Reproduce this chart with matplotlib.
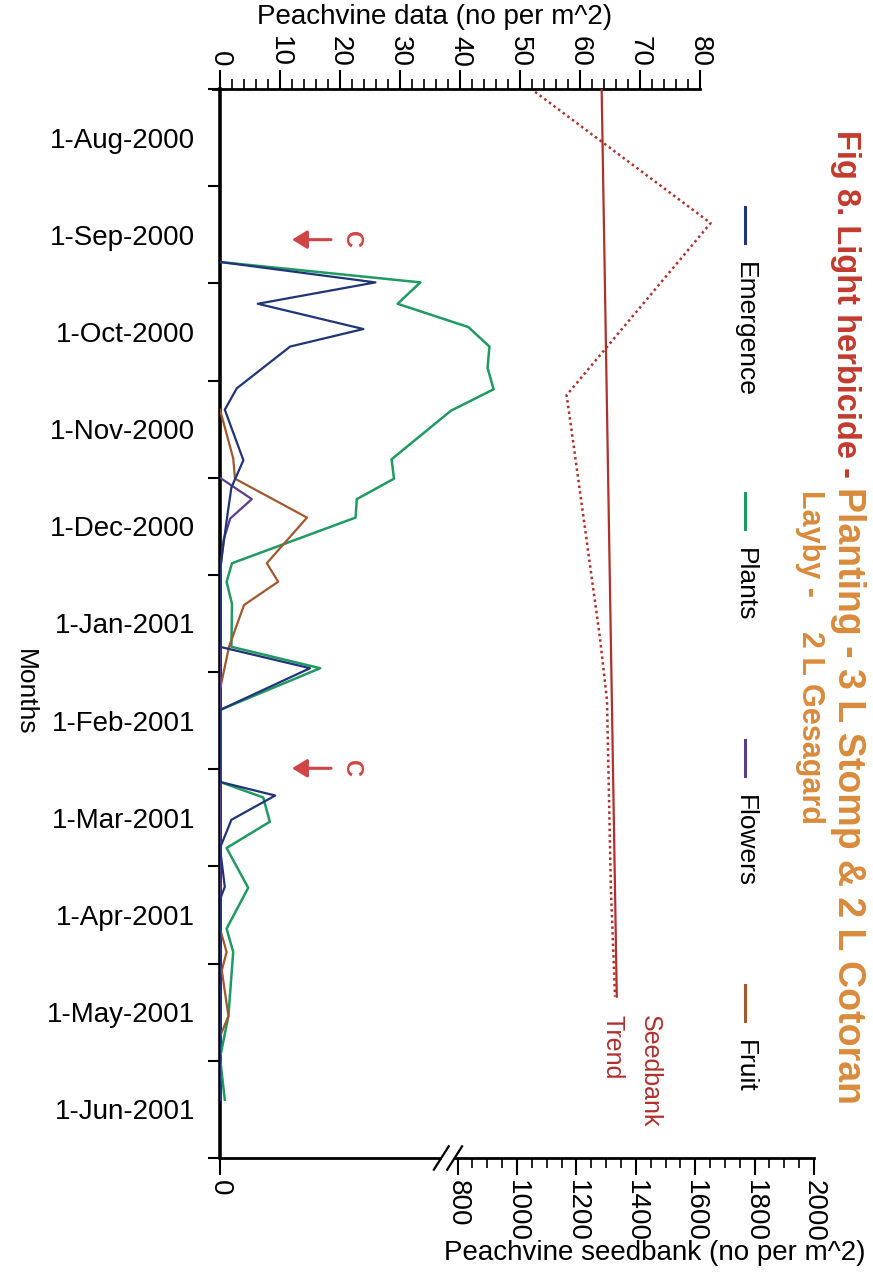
import numpy as np
import matplotlib
matplotlib.use("Agg")
import matplotlib.pyplot as plt

# ---------------------------------------------------------------------------
# Data: time axis is measured in months from the top of the plot
# (0 = start of the Aug-2000 band, 11 = end of the Jun-2001 band)
# ---------------------------------------------------------------------------
month_labels = ["1-Aug-2000", "1-Sep-2000", "1-Oct-2000", "1-Nov-2000",
                "1-Dec-2000", "1-Jan-2001", "1-Feb-2001", "1-Mar-2001",
                "1-Apr-2001", "1-May-2001", "1-Jun-2001"]

emergence_t = [1.78, 1.99, 2.21, 2.47, 2.65, 3.08, 3.30, 3.82, 4.10, 4.40,
               4.95, 5.74, 5.96, 6.39, 7.13, 7.27, 7.52, 7.81, 8.21, 8.34, 10.40]
emergence_v = [0, 25.9, 6.3, 23.9, 11.7, 2.8, 0.8, 3.9, 1.9, 1.2,
               0, 0, 15.0, 0, 0, 9.2, 1.9, 0, 0.8, 0, 0]

plants_t = [1.78, 1.99, 2.21, 2.45, 2.65, 2.87, 3.09, 3.31, 3.81, 4.01,
            4.22, 4.41, 4.88, 5.07, 5.30, 5.74, 5.96, 6.39, 7.13, 7.29,
            7.54, 7.81, 8.22, 8.64, 8.88, 9.54, 9.97, 10.40]
plants_v = [0, 33.4, 29.6, 41.4, 44.9, 44.6, 45.6, 38.5, 28.6, 29.0,
            22.8, 22.6, 2.0, 1.1, 2.0, 1.9, 16.7, 0, 0, 7.2,
            8.3, 1.1, 4.7, 1.1, 2.2, 1.4, 0, 0.8]

flowers_t = [4.00, 4.22, 4.42, 4.64, 4.98, 10.40]
flowers_v = [0, 5.3, 1.7, 0.6, 0, 0]

fruit_t = [3.30, 3.80, 4.01, 4.41, 4.88, 5.07, 5.31, 5.74, 6.18, 8.64,
           8.88, 9.07, 9.54, 9.75]
fruit_v = [0, 2.2, 2.5, 14.5, 7.8, 9.7, 4.0, 1.5, 0, 0,
           1.1, 0.3, 1.4, 0]

# seedbank observations (dotted) and fitted trend (solid)
seedbank_t = [0.03, 1.38, 3.15, 3.54, 5.64, 6.29, 8.21, 9.34]
seedbank_v = [1061, 1652, 1167, 1185, 1279, 1303, 1316, 1330]
trend_t = [0.0, 9.34]
trend_v = [1285, 1336]

# cultivation events
cult_t = [1.55, 6.99]

legend_names = ["Emergence", "Plants", "Flowers", "Fruit"]

# ---------------------------------------------------------------------------
W, H, DPI = 873, 1288, 100
plt.rcParams["font.family"] = ["Liberation Sans", "DejaVu Sans"]

C_EMERG = "#1f3577"
C_PLANT = "#1f9a62"
C_FLOW = "#5a3d8a"
C_FRUIT = "#a0582e"
C_SEED = "#b0302c"
C_ARROW = "#cf4545"
C_TITLE_RED = "#c23a2e"
C_TITLE_ORG = "#d98a3c"

fig = plt.figure(figsize=(W / DPI, H / DPI), dpi=DPI)
fig.patch.set_facecolor("white")


def fx(px):
    return px / W


def fy(py):
    return 1 - py / H


L, R, T, B = 220, 814, 89, 1158
ax = fig.add_axes([fx(L), fy(B), (R - L) / W, (B - T) / H])
ax2 = ax.twiny()

top_max = 80 * (R - L) / (700 - L)
ax.set_xlim(0, top_max)
ax.set_ylim(11, 0)
ax2.set_xlim(0, 2000)

# peachvine series
lw = 1.6
ax.plot(plants_v, plants_t, color=C_PLANT, lw=lw + 0.2, zorder=3)
ax.plot(fruit_v, fruit_t, color=C_FRUIT, lw=lw, zorder=3)
ax.plot(flowers_v, flowers_t, color=C_FLOW, lw=lw, zorder=3)
ax.plot(emergence_v, emergence_t, color=C_EMERG, lw=lw, zorder=4)

# seedbank
ax2.plot(seedbank_v, seedbank_t, color=C_SEED, lw=1.8, ls=(0, (1, 1.3)))
ax2.plot(trend_v, trend_t, color=C_SEED, lw=1.6)

# cultivation arrows
for t in cult_t:
    ax.annotate("", xy=(12.0, t), xytext=(18.5, t),
                arrowprops=dict(arrowstyle="-|>,head_length=0.9,head_width=0.55",
                                color=C_ARROW, lw=2.2, shrinkA=0, shrinkB=0))
    ax.text(22.0, t, "C", color=C_ARROW, fontsize=17, fontweight="bold",
            rotation=270, ha="center", va="center")

# ---- axes styling -------------------------------------------------------
for s in ("right", "bottom"):
    ax.spines[s].set_visible(False)
ax.spines["left"].set_linewidth(2.6)
ax.spines["top"].set_linewidth(2.0)
ax.spines["top"].set_bounds(-1.2, 80)
for s in ("top", "left", "right"):
    ax2.spines[s].set_visible(False)
ax2.spines["bottom"].set_linewidth(2.0)
ax2.spines["bottom"].set_bounds(0, 2000)
ax.patch.set_alpha(0)
ax2.patch.set_alpha(0)

ax.xaxis.tick_top()
ax.set_xticks(np.arange(0, 81, 10))
ax.set_xticks(np.arange(0, 81, 2), minor=True)
ax.tick_params(axis="x", which="major", length=14, width=1.5, pad=2,
               labelsize=20, labelrotation=270)
ax.tick_params(axis="x", which="minor", length=7, width=1.2)

ax2.xaxis.tick_bottom()
ax2.set_xticks([0] + list(range(800, 2001, 200)))
ax2.set_xticks(np.arange(800, 2001, 50), minor=True)
ax2.tick_params(axis="x", which="major", length=12, width=1.5, pad=4,
                labelsize=20, labelrotation=270)
ax2.tick_params(axis="x", which="minor", length=7, width=1.2)

ax.set_yticks(np.arange(0, 12))
ax.set_yticklabels([])
ax.set_yticks(np.arange(11) + 0.5, minor=True)
ax.set_yticklabels(month_labels, minor=True)
ax.tick_params(axis="y", which="major", length=9, width=1.5)
ax.tick_params(axis="y", which="minor", length=0, pad=18, labelsize=20)

# axis break on the seedbank axis
for xb in (745, 790):
    ax2.plot([xb - 25, xb + 25], [11.12, 10.88], color="black", lw=1.6,
             clip_on=False, zorder=6)
ax2.fill_between([748, 785], 10.97, 11.03, color="white", zorder=5,
                 clip_on=False)

# axis titles
fig.text(fx(435), fy(17), "Peachvine data (no per m^2)", fontsize=20,
         ha="center", va="center")
fig.text(fx(655), fy(1253), "Peachvine seedbank (no per m^2)", fontsize=20,
         ha="center", va="center")
fig.text(fx(25), fy(692), "Months", fontsize=19, rotation=270,
         ha="center", va="center")

# seedbank trend label
fig.text(fx(650), fy(1015), "Seedbank", fontsize=18, color=C_SEED,
         rotation=270, ha="center", va="top")
fig.text(fx(612), fy(1015), "Trend", fontsize=18, color=C_SEED,
         rotation=270, ha="center", va="top")

# legend (rotated)
legend_cols = [C_EMERG, C_PLANT, C_FLOW, C_FRUIT]
legend_start = [262, 548, 795, 1040]
for name, col, y0 in zip(legend_names, legend_cols, legend_start):
    fig.add_artist(plt.Line2D([fx(745), fx(745)], [fy(y0 - 55), fy(y0 - 19)],
                              color=col, lw=2.2))
    fig.text(fx(745), fy(y0), name, fontsize=19, rotation=270,
             ha="center", va="top")

# title (rotated, two colours on the first line)
fig.canvas.draw()
renderer = fig.canvas.get_renderer()
t1 = fig.text(fx(830), fy(130), "Fig 8. Light herbicide - ", fontsize=23.5,
              fontweight="bold", color=C_TITLE_RED, rotation=270,
              ha="left", va="top")
ext = t1.get_window_extent(renderer)
fig.text(fx(830), ext.y0 / H, "Planting - 3 L Stomp & 2 L Cotoran",
         fontsize=27, fontweight="bold", color=C_TITLE_ORG, rotation=270,
         ha="left", va="top")
fig.text(fx(810), fy(490), "Layby -    2 L Gesagard", fontsize=22,
         fontweight="bold", color=C_TITLE_ORG, rotation=270,
         ha="center", va="top")

fig.savefig("out.png", dpi=DPI, facecolor="white")
